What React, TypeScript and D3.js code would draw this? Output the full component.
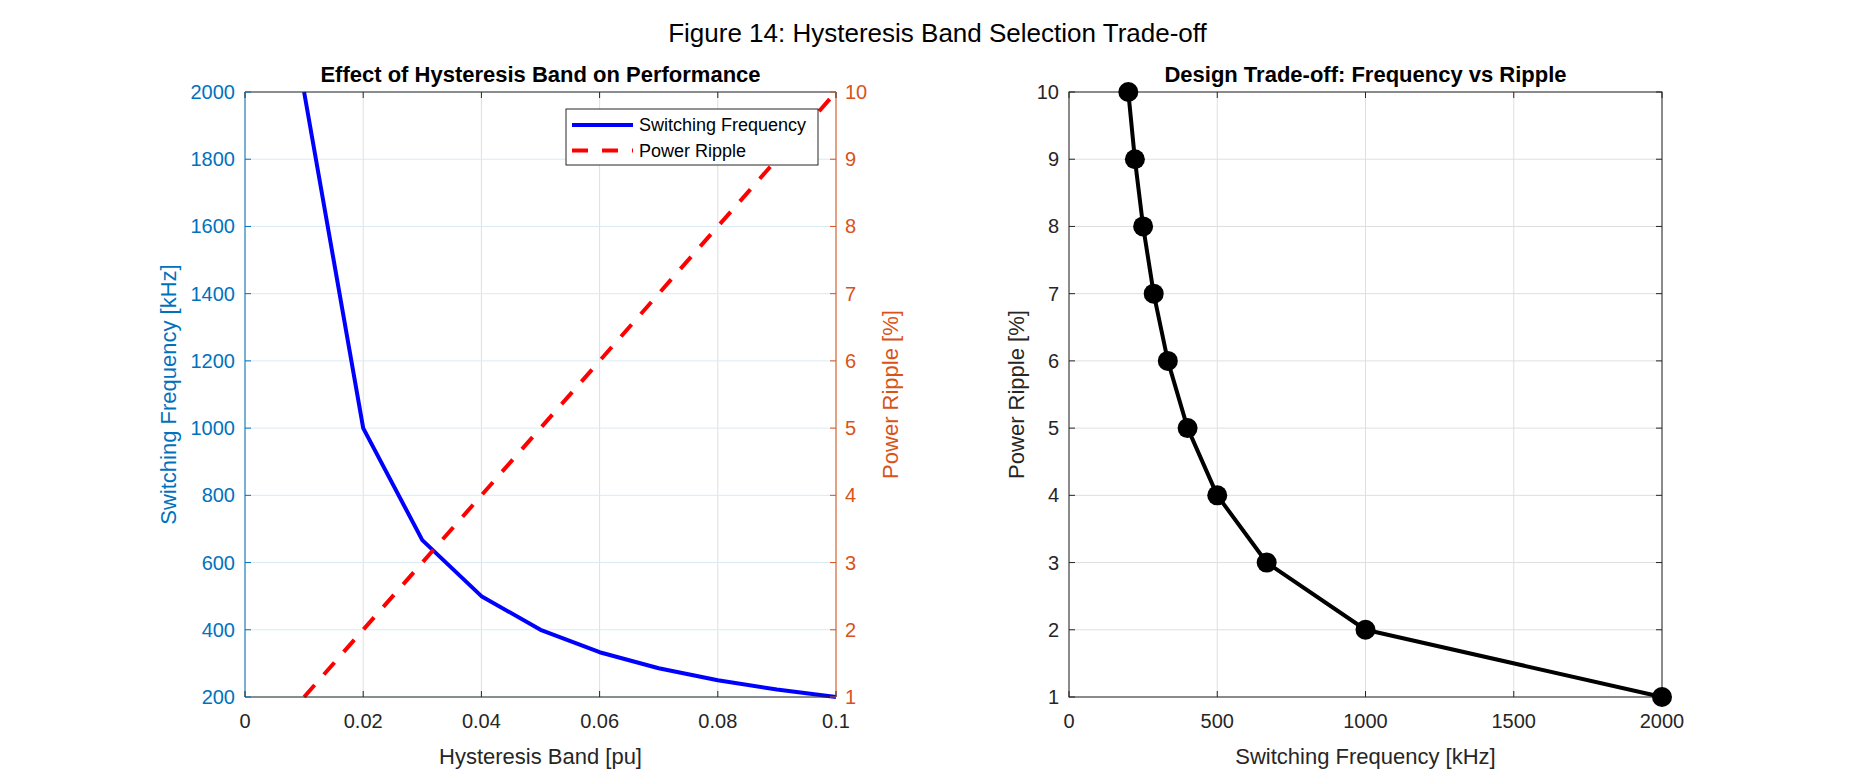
import React, { useRef, useEffect } from 'react';
import * as d3 from 'd3';

// Hysteresis band sweep
const bandPu = [0.01, 0.02, 0.03, 0.04, 0.05, 0.06, 0.07, 0.08, 0.09, 0.1];
const switchingFreqKHz = [2000, 1000, 666.7, 500, 400, 333.3, 285.7, 250, 222.2, 200];
const powerRipplePct = [1, 2, 3, 4, 5, 6, 7, 8, 9, 10];

// Tick values
const bandTicks = [0, 0.02, 0.04, 0.06, 0.08, 0.1];
const freqTicks = [200, 400, 600, 800, 1000, 1200, 1400, 1600, 1800, 2000];
const rippleTicks = [1, 2, 3, 4, 5, 6, 7, 8, 9, 10];
const freqTicksRight = [0, 500, 1000, 1500, 2000];

const legendItems = ['Switching Frequency', 'Power Ripple'];

const FONT = '"Liberation Sans", Arial, Helvetica, sans-serif';
const AX = '#262626';
const LEFT_C = '#0072BD';
const RIGHT_C = '#D95319';
const GRID = '#dfdfdf';
const GRID_B = '#d9eaf5';

export default function App() {
  const svgRef = useRef<SVGSVGElement>(null);

  useEffect(() => {
    if (!svgRef.current) return;
    const svg = d3.select(svgRef.current);
    svg.selectAll('*').remove();

    const W = 1875;
    const H = 781;
    svg.attr('width', W).attr('height', H);
    svg.append('rect').attr('width', W).attr('height', H).attr('fill', '#fff');

    const top = 92;
    const bottom = 697;
    const tickLen = 6;

    svg.append('text')
      .attr('x', W / 2).attr('y', 42)
      .attr('text-anchor', 'middle')
      .style('font-family', FONT).style('font-size', '26px').style('fill', '#000')
      .text('Figure 14: Hysteresis Band Selection Trade-off');

    // ---------- Left panel ----------
    const l0 = 245, l1 = 836;
    const x = d3.scaleLinear().domain([0, 0.1]).range([l0, l1]);
    const yL = d3.scaleLinear().domain([200, 2000]).range([bottom, top]);
    const yR = d3.scaleLinear().domain([1, 10]).range([bottom, top]);

    const g1 = svg.append('g');

    // grid
    g1.selectAll('.vgrid').data(bandTicks).enter().append('line')
      .attr('x1', d => x(d)).attr('x2', d => x(d))
      .attr('y1', top).attr('y2', bottom)
      .attr('stroke', GRID).attr('stroke-width', 1);
    g1.selectAll('.hgrid').data(freqTicks).enter().append('line')
      .attr('x1', l0).attr('x2', l1)
      .attr('y1', d => yL(d)).attr('y2', d => yL(d))
      .attr('stroke', GRID_B).attr('stroke-width', 1);

    // lines
    const freqLine = d3.line<number>()
      .x((_, i) => x(bandPu[i]))
      .y(d => yL(d));
    g1.append('path')
      .datum(switchingFreqKHz)
      .attr('d', freqLine)
      .attr('fill', 'none').attr('stroke', '#0000ff').attr('stroke-width', 4)
      .attr('stroke-linejoin', 'round');

    const rippleLine = d3.line<number>()
      .x((_, i) => x(bandPu[i]))
      .y(d => yR(d));
    g1.append('path')
      .datum(powerRipplePct)
      .attr('d', rippleLine)
      .attr('fill', 'none').attr('stroke', '#ff0000').attr('stroke-width', 4)
      .attr('stroke-dasharray', '16,14');

    // box
    g1.append('line').attr('x1', l0).attr('x2', l1).attr('y1', bottom).attr('y2', bottom).attr('stroke', AX);
    g1.append('line').attr('x1', l0).attr('x2', l1).attr('y1', top).attr('y2', top).attr('stroke', AX);
    g1.append('line').attr('x1', l0).attr('x2', l0).attr('y1', top).attr('y2', bottom).attr('stroke', LEFT_C);
    g1.append('line').attr('x1', l1).attr('x2', l1).attr('y1', top).attr('y2', bottom).attr('stroke', RIGHT_C);

    // x ticks
    bandTicks.forEach(t => {
      g1.append('line').attr('x1', x(t)).attr('x2', x(t)).attr('y1', bottom).attr('y2', bottom - tickLen).attr('stroke', AX);
      g1.append('line').attr('x1', x(t)).attr('x2', x(t)).attr('y1', top).attr('y2', top + tickLen).attr('stroke', AX);
      g1.append('text')
        .attr('x', x(t)).attr('y', bottom + 31)
        .attr('text-anchor', 'middle')
        .style('font-family', FONT).style('font-size', '20px').style('fill', AX)
        .text(d3.format('~g')(t));
    });
    // left y ticks
    freqTicks.forEach(t => {
      g1.append('line').attr('x1', l0).attr('x2', l0 + tickLen).attr('y1', yL(t)).attr('y2', yL(t)).attr('stroke', LEFT_C);
      g1.append('text')
        .attr('x', l0 - 10).attr('y', yL(t) + 7)
        .attr('text-anchor', 'end')
        .style('font-family', FONT).style('font-size', '20px').style('fill', LEFT_C)
        .text(t);
    });
    // right y ticks
    rippleTicks.forEach(t => {
      g1.append('line').attr('x1', l1).attr('x2', l1 - tickLen).attr('y1', yR(t)).attr('y2', yR(t)).attr('stroke', RIGHT_C);
      g1.append('text')
        .attr('x', l1 + 9).attr('y', yR(t) + 7)
        .attr('text-anchor', 'start')
        .style('font-family', FONT).style('font-size', '20px').style('fill', RIGHT_C)
        .text(t);
    });

    g1.append('text')
      .attr('x', (l0 + l1) / 2).attr('y', 764)
      .attr('text-anchor', 'middle')
      .style('font-family', FONT).style('font-size', '22px').style('fill', AX)
      .text('Hysteresis Band [pu]');
    g1.append('text')
      .attr('transform', `translate(176,${(top + bottom) / 2}) rotate(-90)`)
      .attr('text-anchor', 'middle')
      .style('font-family', FONT).style('font-size', '22px').style('fill', LEFT_C)
      .text('Switching Frequency [kHz]');
    g1.append('text')
      .attr('transform', `translate(898,${(top + bottom) / 2}) rotate(-90)`)
      .attr('text-anchor', 'middle')
      .style('font-family', FONT).style('font-size', '22px').style('fill', RIGHT_C)
      .text('Power Ripple [%]');
    g1.append('text')
      .attr('x', (l0 + l1) / 2).attr('y', 82)
      .attr('text-anchor', 'middle')
      .style('font-family', FONT).style('font-size', '22px').style('font-weight', 'bold').style('fill', '#000')
      .text('Effect of Hysteresis Band on Performance');

    // legend
    const lgX = 566, lgY = 109, lgW = 252, lgH = 56;
    const lg = g1.append('g');
    lg.append('rect').attr('x', lgX).attr('y', lgY).attr('width', lgW).attr('height', lgH)
      .attr('fill', '#fff').attr('stroke', AX).attr('stroke-width', 1);
    legendItems.forEach((name, i) => {
      const cy = lgY + 16 + i * 25.5;
      lg.append('line')
        .attr('x1', lgX + 6).attr('x2', lgX + 67).attr('y1', cy).attr('y2', cy)
        .attr('stroke', i === 0 ? '#0000ff' : '#ff0000').attr('stroke-width', 4)
        .attr('stroke-dasharray', i === 0 ? null : '16,14');
      lg.append('text')
        .attr('x', lgX + 73).attr('y', cy + 6)
        .style('font-family', FONT).style('font-size', '18px').style('fill', '#000')
        .text(name);
    });

    // ---------- Right panel ----------
    const r0 = 1069, r1 = 1662;
    const x2 = d3.scaleLinear().domain([0, 2000]).range([r0, r1]);
    const y2 = d3.scaleLinear().domain([1, 10]).range([bottom, top]);
    const g2 = svg.append('g');

    g2.selectAll('.vgrid').data(freqTicksRight).enter().append('line')
      .attr('x1', d => x2(d)).attr('x2', d => x2(d))
      .attr('y1', top).attr('y2', bottom)
      .attr('stroke', GRID);
    g2.selectAll('.hgrid').data(rippleTicks).enter().append('line')
      .attr('x1', r0).attr('x2', r1)
      .attr('y1', d => y2(d)).attr('y2', d => y2(d))
      .attr('stroke', GRID);

    g2.append('rect').attr('x', r0).attr('y', top).attr('width', r1 - r0).attr('height', bottom - top)
      .attr('fill', 'none').attr('stroke', AX);

    freqTicksRight.forEach(t => {
      g2.append('line').attr('x1', x2(t)).attr('x2', x2(t)).attr('y1', bottom).attr('y2', bottom - tickLen).attr('stroke', AX);
      g2.append('line').attr('x1', x2(t)).attr('x2', x2(t)).attr('y1', top).attr('y2', top + tickLen).attr('stroke', AX);
      g2.append('text')
        .attr('x', x2(t)).attr('y', bottom + 31)
        .attr('text-anchor', 'middle')
        .style('font-family', FONT).style('font-size', '20px').style('fill', AX)
        .text(t);
    });
    rippleTicks.forEach(t => {
      g2.append('line').attr('x1', r0).attr('x2', r0 + tickLen).attr('y1', y2(t)).attr('y2', y2(t)).attr('stroke', AX);
      g2.append('line').attr('x1', r1).attr('x2', r1 - tickLen).attr('y1', y2(t)).attr('y2', y2(t)).attr('stroke', AX);
      g2.append('text')
        .attr('x', r0 - 10).attr('y', y2(t) + 7)
        .attr('text-anchor', 'end')
        .style('font-family', FONT).style('font-size', '20px').style('fill', AX)
        .text(t);
    });

    const tradeLine = d3.line<number>()
      .x(d => x2(d))
      .y((_, i) => y2(powerRipplePct[i]));
    g2.append('path')
      .datum(switchingFreqKHz)
      .attr('d', tradeLine)
      .attr('fill', 'none').attr('stroke', '#000').attr('stroke-width', 4)
      .attr('stroke-linejoin', 'round');
    g2.selectAll('.dot').data(switchingFreqKHz).enter().append('circle')
      .attr('cx', d => x2(d))
      .attr('cy', (_, i) => y2(powerRipplePct[i]))
      .attr('r', 10)
      .attr('fill', '#000');

    g2.append('text')
      .attr('x', (r0 + r1) / 2).attr('y', 764)
      .attr('text-anchor', 'middle')
      .style('font-family', FONT).style('font-size', '22px').style('fill', AX)
      .text('Switching Frequency [kHz]');
    g2.append('text')
      .attr('transform', `translate(1024,${(top + bottom) / 2}) rotate(-90)`)
      .attr('text-anchor', 'middle')
      .style('font-family', FONT).style('font-size', '22px').style('fill', AX)
      .text('Power Ripple [%]');
    g2.append('text')
      .attr('x', (r0 + r1) / 2).attr('y', 82)
      .attr('text-anchor', 'middle')
      .style('font-family', FONT).style('font-size', '22px').style('font-weight', 'bold').style('fill', '#000')
      .text('Design Trade-off: Frequency vs Ripple');
  }, []);

  return (
    <div style={{ position: 'absolute', left: 0, top: 0 }}>
      <svg ref={svgRef} style={{ display: 'block' }} />
    </div>
  );
}
